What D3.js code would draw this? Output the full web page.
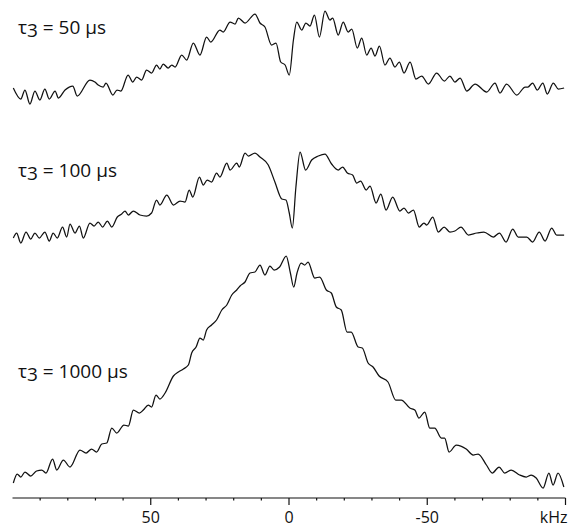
<!DOCTYPE html>
<html lang="en">
<head>
<meta charset="utf-8">
<title>Spectra vs tau3</title>
<style>
    html, body { margin: 0; padding: 0; background: #fff; }
    svg { display: block; }
    .trace { fill: none; stroke: #111; stroke-width: 1.25px; stroke-linejoin: round; }
    .axis line, .axis path { stroke: #111; stroke-width: 1.2px; }
    text { font-family: "Open Sans", "Noto Sans", sans-serif; fill: #111; }
</style>
</head>
<body>
<div id="chart"></div>
<script src="https://d3js.org/d3.v7.min.js"></script>
<script>
var w = 573, h = 528;

// spectra: [frequency kHz, intensity a.u.] read at peaks / troughs
var tau50 = [[99.7,17],[97.0,6],[95.5,15],[93.7,1],[91.9,14],[90.1,5],[88.3,16],[86.7,6],[84.6,14],[83.4,7],[81.0,15],[78.2,19],[76.6,9],[72.0,25],[70.2,23],[69.0,20],[67.2,18],[66.2,22],[63.7,10],[62.2,15],[60.8,14],[58.2,30],[56.5,23],[55.1,28],[53.3,25],[51.5,35],[49.7,32],[47.9,40],[46.7,36],[45.5,41],[43.7,37],[42.4,40],[41.2,38],[38.8,50],[37.0,45],[34.6,62],[32.2,50],[29.8,68],[28.3,63],[25.0,75],[23.8,73],[21.3,83],[19.5,81],[18.3,87],[15.9,82],[12.3,91],[10.5,82],[8.7,78],[6.3,60],[4.7,62],[3.0,43],[1.4,40],[-0.1,30],[-1.6,65],[-2.8,83],[-4.6,75],[-6.1,82],[-7.6,79],[-9.2,90],[-11.0,68],[-13.0,94],[-14.8,85],[-15.8,87],[-17.8,70],[-19.6,83],[-21.4,73],[-22.7,76],[-24.7,57],[-26.3,67],[-28.1,50],[-29.7,57],[-31.1,49],[-32.7,59],[-34.7,40],[-36.5,47],[-38.3,38],[-39.9,43],[-41.6,32],[-43.8,43],[-45.9,26],[-48.0,29],[-50.4,21],[-53.4,32],[-56.2,24],[-58.2,29],[-60.0,23],[-61.9,27],[-64.3,14],[-67.3,21],[-71.5,13],[-74.5,22],[-76.3,12],[-78.7,21],[-82.4,10],[-85.4,18],[-86.4,18],[-88.1,22],[-89.8,15],[-91.8,22],[-93.4,11],[-95.6,22],[-97.4,16],[-99.5,17]];

var tau100 = [[99.7,7],[98.5,12],[97.0,2],[95.1,13],[93.4,6],[91.9,12],[90.3,7],[88.3,13],[86.7,4],[85.3,12],[83.8,7],[81.9,18],[80.4,8],[79.2,21],[77.4,12],[75.8,19],[74.4,7],[72.0,22],[70.5,19],[69.0,23],[67.4,18],[65.7,24],[64.1,18],[62.1,28],[60.5,31],[59.3,34],[58.1,30],[56.3,34],[53.9,30],[51.5,29],[49.7,32],[47.9,45],[46.7,40],[44.2,50],[41.8,40],[39.4,44],[37.6,43],[36.1,55],[34.8,48],[32.4,68],[31.0,60],[29.6,65],[28.0,63],[26.2,72],[25.0,68],[22.5,82],[21.3,75],[18.9,82],[18.0,78],[15.9,92],[14.7,89],[12.3,92],[10.5,88],[7.5,80],[5.1,63],[2.6,46],[1.1,45],[-0.1,32],[-1.2,17],[-2.5,58],[-4.0,93],[-6.0,75],[-8.2,85],[-10.6,89],[-13.0,91],[-15.4,81],[-17.8,75],[-19.4,78],[-21.1,72],[-23.0,70],[-24.5,62],[-25.9,64],[-27.9,55],[-29.3,59],[-31.5,42],[-33.2,51],[-35.1,35],[-37.5,48],[-40.1,34],[-41.6,37],[-43.2,32],[-45.0,35],[-47.1,18],[-48.8,22],[-49.8,20],[-52.0,28],[-54.0,13],[-56.1,18],[-58.2,13],[-60.0,14],[-62.2,18],[-64.9,10],[-67.9,12],[-70.5,13],[-73.9,8],[-76.1,12],[-78.5,3],[-80.9,16],[-82.9,8],[-86.0,8],[-88.1,3],[-90.5,13],[-92.6,4],[-95.0,17],[-96.8,10],[-99.5,10]];

var tau1000 = [[99.7,7],[98.3,16],[97.0,13],[95.5,18],[93.4,14],[91.3,19],[89.4,20],[87.9,17],[85.5,31],[84.0,20],[81.6,30],[79.2,23],[75.6,40],[73.4,37],[71.4,41],[69.6,38],[67.7,46],[65.9,47],[64.1,62],[62.3,57],[59.7,65],[58.1,64],[56.3,80],[54.1,77],[52.7,80],[50.9,85],[49.7,83],[48.1,95],[46.7,91],[44.8,97],[41.8,114],[40.0,118],[38.2,121],[36.4,125],[35.2,137],[33.6,143],[32.2,152],[31.0,150],[29.8,160],[28.0,165],[26.2,170],[24.3,180],[22.5,185],[20.7,195],[18.9,200],[17.7,204],[15.9,208],[14.1,217],[12.3,218],[10.5,225],[8.7,215],[6.9,224],[5.4,220],[3.4,223],[1.0,234],[-0.5,217],[-1.7,203],[-2.9,217],[-4.4,227],[-5.7,225],[-6.9,228],[-9.3,212],[-11.1,213],[-13.5,200],[-15.3,197],[-17.1,183],[-18.9,180],[-21.0,158],[-22.5,158],[-25.0,143],[-26.5,142],[-28.6,127],[-30.4,123],[-32.6,114],[-35.8,108],[-38.6,90],[-40.6,90],[-43.7,82],[-45.5,80],[-47.0,72],[-49.1,78],[-50.9,62],[-52.7,62],[-55.1,52],[-56.3,52],[-57.9,38],[-60.5,45],[-64.1,41],[-66.6,35],[-68.4,36],[-71.4,25],[-73.5,17],[-76.0,23],[-78.0,17],[-80.4,20],[-83.4,15],[-85.8,13],[-87.6,15],[-89.4,12],[-91.9,2],[-94.0,17],[-95.5,5],[-97.3,17],[-99.4,3]];

var traces = [tau50, tau100, tau1000];
var tauValues = ["50", "100", "1000"];
var offsets = [393, 253, 8];          // vertical stacking, a.u.
var majorTicks = [50, 0, -50];
var minorTicks = d3.range(-100, 100, 10);

// scales
var x = d3.scaleLinear().domain([100, -100]).range([12.5, 565.5]);
var y = d3.scaleLinear().domain([0, 490]).range([498, 8]);

var svg = d3.select("#chart").append("svg").attr("width", w).attr("height", h);

var line = d3.line().curve(d3.curveMonotoneX);

traces.forEach(function(tr, i) {
    svg.append("path")
        .attr("class", "trace")
        .attr("d", line(tr.map(function(d) { return [x(d[0]), y(d[1] + offsets[i])]; }).reverse()));
});

// labels sit above the left baseline of each trace
var labelLift = [71, 68, 112];
traces.forEach(function(tr, i) {
    var t = svg.append("text")
        .attr("x", 18)
        .attr("y", y(offsets[i]) - labelLift[i])
        .attr("font-size", "19px");
    t.append("tspan").text("\u03c4");
    t.append("tspan").attr("dy", 3).text("3");
    t.append("tspan").attr("dy", -3).text(" = " + tauValues[i] + " \u03bcs");
});

// x-axis
var axisY = 498;
var ax = svg.append("g").attr("class", "axis");
ax.append("line")
    .attr("x1", x(100)).attr("x2", x(-100))
    .attr("y1", axisY).attr("y2", axisY);

ax.selectAll(".minor")
    .data(minorTicks)
    .enter().append("line")
    .attr("class", "minor")
    .attr("x1", function(d) { return x(d); })
    .attr("x2", function(d) { return x(d); })
    .attr("y1", axisY).attr("y2", function(d) { return (d % 50 === 0 && d !== 100) ? axisY + 7 : axisY + 2.5; });

ax.selectAll(".lab")
    .data(majorTicks)
    .enter().append("text")
    .attr("class", "lab")
    .attr("x", function(d) { return x(d); })
    .attr("y", 523)
    .attr("text-anchor", "middle")
    .attr("font-size", "16px")
    .text(function(d) { return d; });

ax.append("text")
    .attr("x", x(-100) + 2)
    .attr("y", 523)
    .attr("text-anchor", "end")
    .attr("font-size", "16px")
    .text("kHz");
</script>
</body>
</html>
